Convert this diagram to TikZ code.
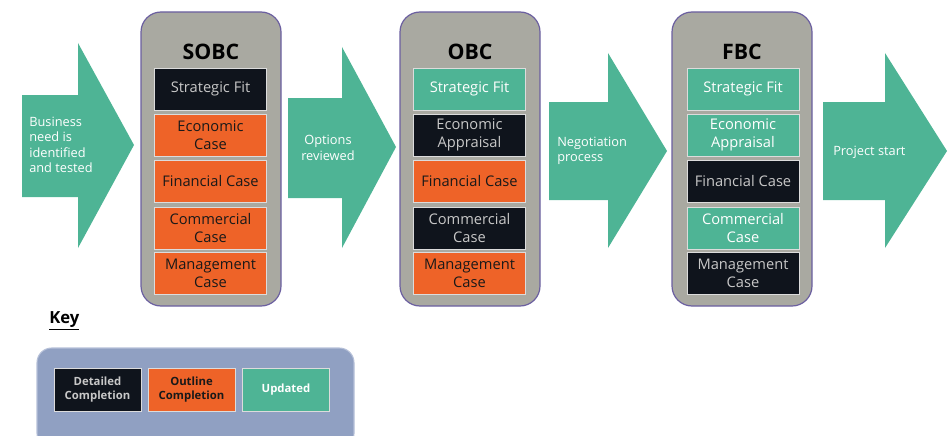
\documentclass[tikz,border=0pt]{standalone}
\usepackage{fontspec}
\setmainfont{Open Sans}
\usepackage{xcolor}
\definecolor{stageteal}{RGB}{78, 180, 149}
\definecolor{outlineorange}{RGB}{238, 99, 40}
\definecolor{detaildark}{RGB}{15, 20, 28}
\definecolor{stagegray}{RGB}{169, 169, 161}
\definecolor{stageline}{RGB}{107, 95, 160}
\definecolor{keyblue}{RGB}{144, 160, 194}
\definecolor{keyline}{RGB}{182, 192, 216}
\definecolor{cellline}{RGB}{220, 220, 220}
\definecolor{lighttext}{RGB}{200, 200, 200}

\begin{document}
\begin{tikzpicture}[x=0.75pt, y=-0.75pt,
    stage/.style={draw=stageline, line width=0.9pt, fill=stagegray, rounded corners=15pt, minimum width=105pt, minimum height=220.5pt},
    cell/.style={draw=cellline, line width=0.5pt, minimum width=84pt, minimum height=31.5pt, inner sep=1pt, align=center, font=\fontsize{11}{13.7}\selectfont},
    detailed/.style={cell, fill=detaildark, text=lighttext},
    outline/.style={cell, fill=outlineorange, text=black!90},
    updated/.style={cell, fill=stageteal, text=white},
    keycell/.style={draw=cellline, line width=0.5pt, minimum width=65.25pt, minimum height=32.25pt, inner sep=1pt, align=center, font=\fontsize{8.5}{10}\selectfont\bfseries},
    title/.style={font=\fontsize{16}{18}\selectfont\bfseries},
    step label/.style={text=white, inner sep=0pt, font=\fontsize{9.6}{11.6}\selectfont}]
    \clip (0, 0) rectangle (948, 435);

    % arrows between the stages
    \fill[stageteal] (22, 95) -- (78, 95) -- (78, 43) -- (134, 145) -- (78, 248) -- (78, 197) -- (22, 197) -- cycle;
    \fill[stageteal] (288, 98) -- (342, 98) -- (342, 47) -- (396, 147) -- (342, 248) -- (342, 198) -- (288, 198) -- cycle;
    \fill[stageteal] (549, 102) -- (608, 102) -- (608, 53) -- (667, 151) -- (608, 248) -- (608, 200) -- (549, 200) -- cycle;
    \fill[stageteal] (823, 102) -- (885, 102) -- (885, 53) -- (947, 151) -- (885, 248) -- (885, 200) -- (823, 200) -- cycle;
    \node[step label, anchor=west, align=left] (need) at (29, 145) {Business\\need is\\identified\\and tested};
    \node[step label, align=center] (options) at (328, 148) {Options\\reviewed};
    \node[step label, anchor=west, align=left] (negotiation) at (557, 151) {Negotiation\\process};
    \node[step label, anchor=west] (start) at (833, 152) {Project start};

    % SOBC
    \node[stage] (sobc) at (211, 159) {};
    \node[title] (sobct) at (211, 52) {SOBC};
    \node[detailed] (sobc1) at (210.5, 89) {Strategic Fit};
    \node[outline] (sobc2) at (210.5, 135) {Economic\\Case};
    \node[outline] (sobc3) at (210.5, 181) {Financial Case};
    \node[outline] (sobc4) at (210.5, 228) {Commercial\\Case};
    \node[outline] (sobc5) at (210.5, 273.5) {Management\\Case};

    % OBC
    \node[stage] (obc) at (470, 159) {};
    \node[title] (obct) at (470, 52) {OBC};
    \node[updated] (obc1) at (469.5, 89) {Strategic Fit};
    \node[detailed] (obc2) at (469.5, 135) {Economic\\Appraisal};
    \node[outline] (obc3) at (469.5, 181) {Financial Case};
    \node[detailed] (obc4) at (469.5, 228) {Commercial\\Case};
    \node[outline] (obc5) at (469.5, 273.5) {Management\\Case};

    % FBC
    \node[stage] (fbc) at (742, 159) {};
    \node[title] (fbct) at (742, 52) {FBC};
    \node[updated] (fbc1) at (743, 89) {Strategic Fit};
    \node[updated] (fbc2) at (743, 135) {Economic\\Appraisal};
    \node[detailed] (fbc3) at (743, 181) {Financial Case};
    \node[updated] (fbc4) at (743, 228) {Commercial\\Case};
    \node[detailed] (fbc5) at (743, 273.5) {Management\\Case};

    % key
    \node[anchor=west, inner sep=0pt, font=\fontsize{12.5}{14}\selectfont\bfseries] (keyt) at (49, 321) {\underline{Key}};
    \node[draw=keyline, line width=0.8pt, fill=keyblue, rounded corners=11pt, minimum width=237.75pt, minimum height=75pt] (key) at (195.5, 398) {};
    \node[keycell, fill=detaildark, text=lighttext] (keyd) at (97.5, 389.5) {Detailed\\Completion};
    \node[keycell, fill=outlineorange, text=black!90] (keyo) at (191.5, 389.5) {Outline\\Completion};
    \node[keycell, fill=stageteal, text=white] (keyu) at (286, 389.5) {Updated};
\end{tikzpicture}
\end{document}
